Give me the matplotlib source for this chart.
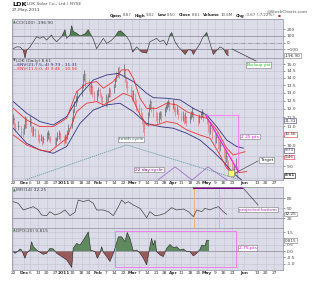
import numpy as np
import pandas as pd
import matplotlib
matplotlib.use("Agg")
import matplotlib.pyplot as plt
from matplotlib.lines import Line2D
from matplotlib.patches import Rectangle
from matplotlib.ticker import FixedLocator, NullLocator, FixedFormatter

plt.rcParams['font.family'] = ['DejaVu Sans']

# ---------------- data ----------------
first_day = '2010-11-22'
last_day = '2011-05-27'
holidays = ['2010-11-25', '2010-12-24', '2011-01-17', '2011-02-21', '2011-04-22']

close = [11.4, 11.1, 10.9, 11.0,
         10.7, 10.6, 10.9, 11.3, 11.1,
         11.4, 10.9, 10.7, 10.8, 10.6,
         10.5, 10.3, 10.4, 10.2, 10.3,
         10.5, 10.6, 10.4, 10.3,
         10.1, 10.3, 10.5, 10.6, 10.4,
         10.2, 10.4, 10.3, 10.6, 10.9,
         11.3, 11.8, 12.2, 12.5, 12.8,
         13.3, 13.9, 14.3, 13.8,
         13.5, 13.2, 13.4, 13.0, 12.8,
         12.9, 13.2, 13.0, 12.7, 12.5,
         12.6, 12.4, 12.8, 13.1, 13.0,
         13.4, 13.8, 14.1, 14.5, 14.3,
         14.6, 14.0, 13.7, 13.4,
         13.1, 12.8, 12.9, 12.5, 12.2,
         12.0, 11.7, 11.4, 11.0, 10.9,
         11.5, 12.0, 12.4, 12.1, 11.8,
         11.6, 11.4, 11.5, 11.7, 11.6,
         11.9, 12.1, 12.3, 12.4, 12.2,
         12.3, 12.0, 11.9, 12.0, 11.7,
         11.5, 11.6, 11.4, 11.5, 11.3,
         11.5, 11.7, 11.8, 11.5,
         11.3, 11.5, 11.7, 11.8, 11.6,
         11.4, 11.0, 10.8, 10.9, 10.6,
         10.3, 10.4, 10.1, 9.9, 10.0,
         9.7, 9.4, 9.5, 9.2, 9.0,
         8.9, 8.7, 8.9, 9.28, 8.61]
high = [11.7, 11.5, 11.2, 11.3,
        11.0, 10.9, 11.1, 11.6, 11.5,
        11.6, 11.4, 11.0, 11.0, 10.9,
        10.8, 10.6, 10.6, 10.5, 10.5,
        10.7, 10.8, 10.7, 10.5,
        10.4, 10.4, 10.7, 10.8, 10.7,
        10.5, 10.6, 10.6, 10.8, 11.1,
        11.5, 12.0, 12.5, 12.8, 13.1,
        13.6, 14.3, 14.6, 14.3,
        13.9, 13.6, 13.7, 13.5, 13.1,
        13.2, 13.4, 13.3, 13.0, 12.8,
        12.9, 12.8, 13.0, 13.4, 13.3,
        13.6, 14.0, 14.4, 14.8, 14.9,
        15.0, 14.6, 14.1, 13.8,
        13.5, 13.2, 13.2, 12.9, 12.6,
        12.3, 12.1, 11.8, 11.4, 11.3,
        11.8, 12.3, 12.6, 12.5, 12.2,
        11.9, 11.8, 11.8, 11.9, 11.9,
        12.1, 12.3, 12.5, 12.6, 12.5,
        12.6, 12.4, 12.2, 12.2, 12.0,
        11.8, 11.9, 11.7, 11.8, 11.6,
        11.7, 11.9, 12.1, 11.8,
        11.6, 11.7, 11.9, 12.0, 11.9,
        11.7, 11.4, 11.1, 11.1, 10.9,
        10.7, 10.6, 10.5, 10.2, 10.3,
        10.0, 9.8, 9.7, 9.5, 9.3,
        9.2, 9.0, 9.1, 9.4, 9.02]
low = [11.1, 10.9, 10.7, 10.8,
       10.4, 10.4, 10.6, 10.9, 10.9,
       11.0, 10.7, 10.5, 10.5, 10.4,
       10.2, 10.1, 10.2, 10.0, 10.1,
       10.2, 10.3, 10.2, 10.1,
       9.9, 10.0, 10.2, 10.3, 10.2,
       10.0, 10.1, 10.1, 10.3, 10.6,
       10.9, 11.3, 11.8, 12.2, 12.4,
       12.8, 13.3, 13.8, 13.4,
       13.1, 12.9, 12.9, 12.7, 12.5,
       12.5, 12.8, 12.7, 12.4, 12.2,
       12.2, 12.1, 12.4, 12.7, 12.7,
       13.0, 13.4, 13.8, 14.1, 14.0,
       14.1, 13.7, 13.3, 13.0,
       12.8, 12.5, 12.5, 12.2, 11.9,
       11.7, 11.4, 11.1, 10.7, 10.5,
       11.0, 11.6, 12.0, 11.8, 11.5,
       11.3, 11.1, 11.2, 11.4, 11.3,
       11.6, 11.8, 12.0, 12.1, 11.9,
       12.0, 11.8, 11.6, 11.7, 11.4,
       11.3, 11.3, 11.1, 11.2, 11.0,
       11.2, 11.4, 11.5, 11.3,
       11.0, 11.2, 11.4, 11.5, 11.3,
       11.1, 10.7, 10.5, 10.6, 10.3,
       10.0, 10.1, 9.8, 9.6, 9.7,
       9.4, 9.1, 9.2, 8.9, 8.8,
       8.6, 8.5, 8.6, 8.9, 8.50]

# envelopes (x = days since 2010-11-22)
blue_up_days = [0.3, 11.4, 22.4, 33.5, 44.6, 55.7, 66.8, 77.9, 87.5, 100, 111.1, 116.6, 127.7, 138.8, 149.9, 161, 169.3, 177.6, 185.9, 191.5]
blue_up_vals = [12.44, 11.74, 11.26, 11.07, 11.54, 12.86, 13.86, 14.21, 14.33, 13.75, 12.97, 12.69, 12.65, 12.55, 12.03, 11.64, 10.98, 10.27, 9.94, 9.86]
blue_lo_days = [0.3, 11.4, 22.4, 33.5, 44.6, 55.7, 66.8, 77.9, 88.9, 100, 111.1, 122.2, 133.3, 144.4, 155.4, 166.5, 174.8, 183.1, 190]
blue_lo_vals = [10.89, 10.10, 9.77, 9.61, 9.94, 11.16, 11.93, 12.24, 12.34, 11.83, 11.16, 10.98, 10.89, 10.62, 10.27, 9.69, 9.22, 8.70, 8.41]
red_up_days = [0.3, 11.4, 22.4, 33.5, 44.6, 52.9, 61.2, 69.5, 75.1, 83.4, 90.3, 95.9, 100, 105.6, 111.1, 119.4, 127.7, 136, 144.4, 155.4, 161, 169.3, 177.6, 183.1, 192.9]
red_up_vals = [12.03, 11.35, 10.98, 10.98, 11.45, 13.08, 13.63, 13.75, 13.30, 13.75, 14.58, 14.58, 13.98, 12.65, 12.03, 12.03, 12.34, 12.24, 11.83, 11.54, 11.45, 10.80, 9.86, 9.53, 9.69]
red_lo_days = [0.3, 11.4, 22.4, 30.8, 44.6, 52.9, 61.2, 69.5, 75.1, 83.4, 91.7, 98.6, 105.6, 111.1, 119.4, 127.7, 136, 144.4, 155.4, 163.8, 172, 177.6, 183.1, 194.2]
red_lo_vals = [10.53, 10.02, 9.77, 9.69, 10.36, 11.83, 12.34, 12.44, 12.24, 12.55, 12.97, 12.76, 11.64, 11.07, 11.07, 11.26, 11.16, 10.80, 10.53, 10.36, 9.53, 8.92, 8.70, 8.77]

# CCI(100)
cci_days = [0.3, 3.0, 5.8, 8.6, 10, 11.4, 14.1, 16.9, 19.7, 22.4, 25.2, 28, 30.7, 32.1, 33.5, 36.3, 40.5, 43.2, 44.6, 47.4, 48.8, 50.1, 52.9, 55.7, 59.9, 62.6, 64, 66.8, 69.5, 72.3, 75.1, 77.9, 82, 84.8, 87.6, 89.5, 91.7, 94.5, 97.2, 99.5, 102.8, 106.9, 111.1, 113.8, 116.6, 119.4, 122.2,
            125, 127.7, 130.5, 131.9, 134.7, 137.4, 140.2, 143, 145.8, 148.5, 149.9, 152.7, 155.5, 156.9, 158.2, 161, 163.8, 166.5, 169.3, 172.1, 174.8, 177.6, 179]
cci_vals = [-90, -64, -64, -115, -228, -115, -64, 13, 90, 64, 90, 38, 90, 115, 64, 13, 90, 192, 64, 115, 254, 167, 141, 100, 131, 192, 141, 49, -90, -13, 64, -13, 38, 90, 167, 177, 141, 90, 13, -141, -64, -141, -156, 13, 38, 64, 13,
            38, -38, 115, 151, 13, -64, -115, -177, -105, -115, -177, -90, -13, 49, 90, 151, -13, -177, -115, -64, -90, -177, -197]

# MFI(14)
mfi_days = [0.3, 4.4, 8.6, 12.7, 16.9, 21, 23.8, 28, 30.7, 34.9, 39, 43.2, 47.4, 51.5, 54.3, 58.5, 62.6, 66.8, 69.5, 75.1, 79.2, 83.4, 87.6, 90.3, 93.1, 95.9, 100, 105.6, 111.1, 113.8, 118, 122.2, 126.3, 131.9, 136, 141.6, 145.8, 149.9, 152.7, 156.9, 159.6, 163.8, 166.5, 170.7, 174.8, 177.6]
mfi_vals = [69, 64, 44, 49, 54, 44, 29, 27, 39, 29, 34, 44, 27, 37, 74, 69, 74, 64, 44, 44, 39, 27, 54, 74, 64, 69, 59, 49, 21, 39, 27, 29, 34, 51, 44, 47, 39, 24, 44, 39, 49, 44, 49, 54, 39, 31]

# DPO(20)
dpo_days = [0.3, 1.7, 4.4, 5.8, 7.2, 8.6, 10, 11.4, 14.1, 15.5, 16.9, 19.7, 22.4, 25.2, 28, 30.7, 33.5, 36.3, 40.5, 44.6, 47.4, 48.8, 50.1, 52.9, 55.7, 58.5, 62.6, 64.6, 68.2, 70.1, 72.3, 73.7, 75.1, 77.9, 80.6, 83.4, 85.6, 87.6, 90.3, 93.1, 95, 97.2, 100, 102.8, 105.6, 108.3, 111.1, 113.8, 115.2, 116.6, 118, 119.4, 122.2, 124.9, 127.7, 130.5, 133.3, 136, 138.8, 141.6, 144.4, 147.1, 149.9, 152.7, 155.4, 156.9, 159.6, 161, 162.9]
dpo_vals = [-0.05, -0.18, 0, 0.16, 0.08, -0.26, -0.57, -0.18, 0.08, 0.73, 0.34, 0.08, -0.10, -0.26, -0.18, 0.21, 0.16, -0.18, -0.44, -0.70, -1.09, -1.30, 0.21, 0.60, 0.47, 0.86, 1.51, 0.08, -0.05, -0.57, -0.18, 0.34, -0.10, -0.44, -0.83, -0.18, 0.47, 1.12, 1.12, 0.73, 1.46, 0.99, 0, 0.08, -0.18, -0.57, -1.09, 0.34, 0.99, 0.47, 0.86, -0.05, -0.31, -0.44, 0.21, 0.52, 0.26, 0.34, 0.08, 0.16, -0.05, -0.05, -0.39, -0.18, 0.13, 0.47, 0.42, 0.86, 0.815]

tick_dates = ['2010-11-22', '2010-12-01', '2010-12-06', '2010-12-13', '2010-12-20', '2010-12-27', '2011-01-03', '2011-01-10', '2011-01-18', '2011-01-24', '2011-02-01', '2011-02-07', '2011-02-14', '2011-02-22', '2011-03-01', '2011-03-07', '2011-03-14', '2011-03-21', '2011-03-28', '2011-04-04', '2011-04-11', '2011-04-18', '2011-04-25', '2011-05-02', '2011-05-09', '2011-05-16', '2011-05-23', '2011-06-02', '2011-06-13', '2011-06-20', '2011-06-27']
tick_labels = ['22', 'Dec', '6', '13', '20', '27', '2011', '10', '18', '24', 'Feb', '7', '14', '22', 'Mar', '7', '14', '21', '28', 'Apr', '11', '18', '25', 'May', '9', '16', '23', 'Jun', '13', '20', '27']
month_labels = {'Dec', '2011', 'Feb', 'Mar', 'Apr', 'May', 'Jun'}
price_ticks = [8.5, 9.0, 9.5, 10.0, 10.5, 11.0, 11.5, 12.0, 12.5, 13.0, 13.5, 14.0, 14.5, 15.0]
price_tick_labels = ['8.5', '9.0', '', '10.0', '', '11.0', '11.5', '12.0', '12.5', '13.0', '13.5', '14.0', '14.5', '15.0']

# ---------------- layout ----------------
W, H = 320, 307
fig = plt.figure(figsize=(3.2, 3.07), dpi=100)
fig.patch.set_facecolor('white')
BG = '#dcdce8'
GRID = '#c2c2d2'
FS = 3.2
BFS = 3.0
base = pd.Timestamp(first_day)
XMIN, XMAX = -0.8, 224.4

dates = pd.bdate_range(first_day, last_day).drop(pd.to_datetime(holidays))
days = np.array((dates - base).days, dtype=float)
close = np.array(close); high = np.array(high); low = np.array(low)
tick_days = [(pd.Timestamp(d) - base).days for d in tick_dates]


def add_ax(top, bottom, left=12, right=283):
    return fig.add_axes([left / W, 1 - bottom / H, (right - left) / W, (bottom - top) / H])


def style(ax, labels=False):
    ax.set_facecolor(BG)
    for s in ax.spines.values():
        s.set_color('#8c8c9c'); s.set_linewidth(0.5)
    ax.yaxis.tick_right()
    ax.tick_params(axis='y', labelsize=FS, length=1.2, width=0.4, pad=1.2, colors='#444')
    ax.tick_params(axis='x', length=0, labelsize=FS, pad=1.0, colors='#333')
    ax.set_xlim(XMIN, XMAX)
    ax.set_xticks(tick_days)
    if labels:
        ax.set_xticklabels(tick_labels)
        for t in ax.get_xticklabels():
            if t.get_text() in month_labels:
                t.set_fontweight('bold')
    else:
        ax.set_xticklabels([])
    ax.grid(True, color=GRID, lw=0.4)
    ax.set_axisbelow(True)


def T(x, y, s, **kw):
    kw.setdefault('fontsize', FS)
    kw.setdefault('va', 'center')
    return fig.text(x / W, 1 - y / H, s, **kw)


def box(c, pad=0.2):
    return dict(boxstyle=f'square,pad={pad}', fc='white', ec=c, lw=0.4)


def value_box(ax, v, s, c='#777', w='normal'):
    ax.text(1.006, v, s, transform=ax.get_yaxis_transform(), fontsize=BFS, va='center', ha='left',
            color='#333', fontweight=w, bbox=box(c, 0.08))

# ---- CCI panel ----
ax1 = add_ax(19, 58)
style(ax1)
ax1.set_ylim(-230, 354)
ax1.set_yticks([200, 100, 0, -100])
ax1.axhline(100, color='#8c8c9c', lw=0.5)
ax1.axhline(-100, color='#8c8c9c', lw=0.5)
ax1.axhline(0, color='#8c8c9c', lw=0.5, ls='-.')
cd = np.array(cci_days); cv = np.array(cci_vals, dtype=float)
ax1.fill_between(cd, cv, 100, where=cv >= 100, interpolate=True, color='#4f7f4f', lw=0)
ax1.fill_between(cd, cv, -100, where=cv <= -100, interpolate=True, color='#9a5555', lw=0)
ax1.plot(cd, cv, color='#333', lw=0.45)
value_box(ax1, -196.9, '-196.90')

# ---- Price panel ----
ax2 = add_ax(58, 180)
style(ax2, labels=True)
ax2.set_yscale('log')
ax2.set_ylim(8.41, 15.47)
ax2.yaxis.set_major_locator(FixedLocator(price_ticks))
ax2.yaxis.set_major_formatter(FixedFormatter(price_tick_labels))
ax2.yaxis.set_minor_locator(NullLocator())
up = np.r_[True, close[1:] >= close[:-1]]
cols = np.where(up, '#555555', '#e86a6a')
ax2.vlines(days, low, high, colors=cols, lw=0.45)
ax2.hlines(close, days, days + 0.7, colors=cols, lw=0.45)
ax2.plot(blue_up_days, blue_up_vals, color='#33337f', lw=0.6)
ax2.plot(blue_lo_days, blue_lo_vals, color='#33337f', lw=0.6)
ax2.plot(red_up_days, red_up_vals, color='#f03030', lw=0.6)
ax2.plot(red_lo_days, red_lo_vals, color='#f03030', lw=0.6)
# cycle lines
ax2.plot([10, 94.5, 188], [8.41, 10.02, 8.43], color='#5f9ea0', lw=0.6, ls=(0, (1.5, 1)))
ax2.plot([120.5, 134.7, 148.8, 162, 177.9], [8.41, 8.98, 8.41, 8.98, 8.41], color='#a070c8', lw=0.6)
# magenta measurement
ax2.plot([161, 187.3, 187.3], [11.64, 11.64, 8.77], color='#ff77ff', lw=0.6)
ax2.plot([160, 187.3], [11.64, 8.77], color='#ff22dd', lw=0.9)
ax2.plot([184.5, 203.7], [8.70, 9.25], color='#555', lw=0.5)
ax2.plot([181.2], [8.70], marker='s', ms=4.5, mfc='#ffff66', mec='#888', mew=0.4)
ax2.text(197, 10.45, '2.25 pts', fontsize=FS, color='#ee00ee', ha='center', va='center', bbox=box('#777'))
ax2.text(98, 10.30, 'tenth cycle', fontsize=FS, color='#2f5f5f', ha='center', va='center', bbox=box('#777'))
ax2.text(113, 8.86, '22 day cycle', fontsize=FS, color='#800080', ha='center', va='center', bbox=box('#777'))
ax2.text(210.7, 9.30, 'Target', fontsize=FS, color='#222', ha='center', va='center', bbox=box('#777'))
ax2.text(204, 14.94, 'No buy yet', fontsize=FS, color='#11bb11', ha='center', va='center', bbox=box('#777'))
value_box(ax2, 11.31, '11.31', '#33337f')
value_box(ax2, 10.56, '10.56', '#f03030')
value_box(ax2, 9.76, '9.73', '#33337f')
value_box(ax2, 9.43, '9.46', '#f03030')
value_box(ax2, 8.61, '8.61', '#000000', 'bold')

# ---- MFI panel ----
ax3 = add_ax(187, 228)
style(ax3)
ax3.set_ylim(-10, 113)
ax3.set_yticks([80, 50, 20])
ax3.axhline(80, color='#8c8c9c', lw=0.5)
ax3.axhline(20, color='#8c8c9c', lw=0.5)
ax3.axvline(150.7, color='#f5b27a', lw=0.7)
ax3.axvline(171.2, color='#f5b27a', lw=0.7)
ax3.plot(mfi_days, mfi_vals, color='#333', lw=0.45)
ax3.plot([149.6, 191.2], [110, 110], color='#800080', lw=1.4, solid_capstyle='butt')
ax3.plot([191.2, 203.7], [110, 59], color='#444', lw=0.5)
ax3.text(203.7, 45.5, 'projected bottom', fontsize=FS, color='#993399', ha='center', va='center', bbox=box('#777'))
value_box(ax3, 32.25, '32.25')

# ---- DPO panel ----
ax4 = add_ax(228, 270)
style(ax4, labels=True)
ax4.set_ylim(-1.5, 1.82)
ax4.set_yticks([1.5, 1.0, 0.5, 0.0, -0.5, -1.0])
ax4.set_yticklabels(['1.5', '', '0.5', '0.0', '-0.5', '-1.0'])
ax4.axhline(0, color='#8c8c9c', lw=0.5)
dd = np.array(dpo_days); dv = np.array(dpo_vals)
ax4.fill_between(dd, dv, 0, where=dv >= 0, interpolate=True, color='#5f8a5f', lw=0)
ax4.fill_between(dd, dv, 0, where=dv <= 0, interpolate=True, color='#9a5a5a', lw=0)
ax4.plot(dd, dv, color='#222', lw=0.4)
ax4.add_patch(Rectangle((84.8, -1.27), 185.4 - 84.8, 1.56 + 1.27, fill=False, ec='#ee82ee', lw=0.7))
ax4.text(195, 0.23, '2.75 pts', fontsize=FS, color='#ee00ee', ha='center', va='center', bbox=box('#777'))
value_box(ax4, 0.815, '0.815')

# ---- panel labels ----
T(13, 23, '\u25b2', color='#4f7f4f', fontsize=2.6)
T(16, 23, 'CCI(100) -196.90', color='#444')
T(13, 61, '\u25bc', color='#555', fontsize=2.6)
T(16, 61, 'LDK (Daily) 8.61', color='#444')
T(13, 65, '\u2014ENV(21,7.5,-4) 9.73 - 11.31', color='#33337f')
T(13, 69, '\u2014ENV(11,5.0,-4) 9.46 - 10.56', color='#f03030')
T(13, 190, '\u25b2', color='#4f7f4f', fontsize=2.6)
T(16, 190, 'MFI(14) 32.25', color='#444')
T(13, 231, '\u25b2', color='#4f7f4f', fontsize=2.6)
T(16, 231, 'DPO(20) 0.815', color='#444')

# ---- header ----
T(12, 4, 'LDK', fontsize=4.6, fontweight='bold', color='#111')
T(25, 4, '(LDK Solar Co., Ltd.) NYSE', fontsize=FS, color='#555')
T(12, 9.5, '27-May-2011', fontsize=FS, color='#444')
T(308, 11.5, '@StockCharts.com', fontsize=FS, color='#555', ha='right')
fig.canvas.draw()
r = fig.canvas.get_renderer()
x = 110
for s, b in [('Open', True), ('8.87', False), ('High', True), ('9.02', False), ('Low', True), ('8.50', False),
             ('Close', True), ('8.61', False), ('Volume', True), ('10.6M', False), ('Chg', True), ('-0.67 (-7.22%)', False)]:
    t = T(x, 15.5, s, fontsize=2.9, fontweight='bold' if b else 'normal', color='#222' if b else '#555')
    bb = t.get_window_extent(renderer=r)
    x += bb.width + (1.0 if b else 2.6)
T(x + 0.5, 15.5, '\u25aa', fontsize=FS, color='#cc2222')

# line from CCI end to "No buy yet"
fig.add_artist(Line2D([232 / W, 256 / W], [1 - 49 / H, 1 - 61 / H], color='#333', lw=0.5))

fig.savefig('out.png', dpi=100, facecolor='white')
